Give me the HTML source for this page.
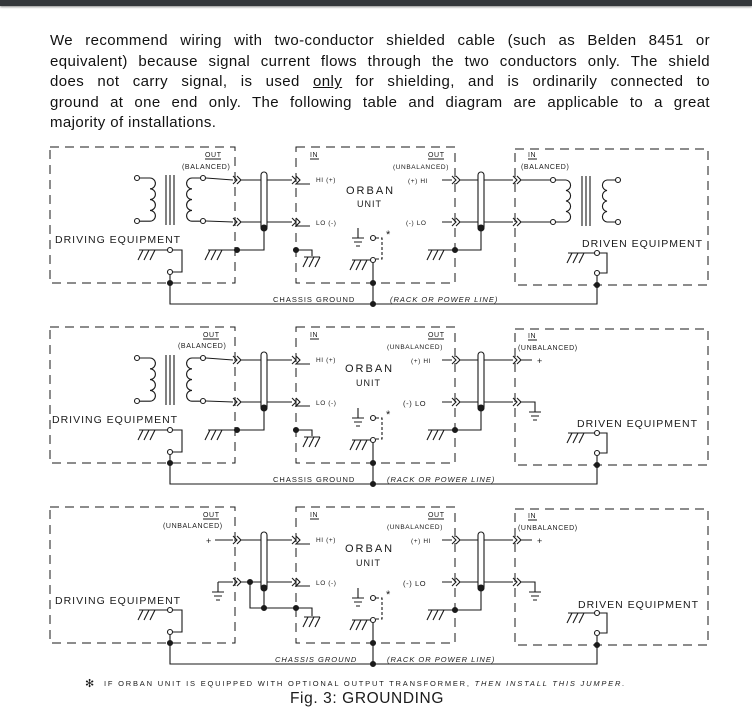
<!DOCTYPE html>
<html><head><meta charset="utf-8">
<style>
html,body{margin:0;padding:0;background:#fff;}
body{width:752px;height:726px;position:relative;overflow:hidden;font-family:"Liberation Sans",sans-serif;}
.bar{position:absolute;left:0;top:0;width:752px;height:6px;background:#34373b;box-shadow:0 1px 2px #888;}
.para{position:absolute;left:50px;top:31px;width:660px;font-size:15px;line-height:20.6px;color:#111;letter-spacing:0.4px;}
.para div{text-align:justify;text-align-last:justify;white-space:nowrap;}
.para div.l{text-align-last:left;}
svg{position:absolute;left:0;top:0;}
</style></head><body>
<div class="bar"></div>
<div class="para">
<div style="white-space:normal">We recommend wiring with two-conductor shielded cable (such as Belden 8451 or</div>
<div style="white-space:normal">equivalent) because signal current flows through the two conductors only. The shield</div>
<div style="white-space:normal">does not carry signal, is used <u>only</u> for shielding, and is ordinarily connected to</div>
<div style="white-space:normal">ground at one end only. The following table and diagram are applicable to a great</div>
<div class="l">majority of installations.</div>
</div>
<svg width="752" height="726" viewBox="0 0 752 726" xmlns="http://www.w3.org/2000/svg">
<defs>
<g id="common" fill="none" stroke="#1a1a1a" stroke-width="1.1">
  <g stroke-dasharray="9 6" stroke-width="1">
    <rect x="50" y="147" width="185" height="136"/>
    <rect x="296" y="147" width="159" height="136"/>
    <rect x="515" y="149" width="193" height="136"/>
  </g>
  <path d="M233,176 L237,180 L233,184 M237,176 L241,180 L237,184 M233,218 L237,222 L233,226 M237,218 L241,222 L237,226"/>
  <path d="M241,180 H292 M241,222 H292"/>
  <path d="M292,176 L296,180 L292,184 M296,176 L300,180 L296,184 H310 M292,218 L296,222 L292,226 M296,218 L300,222 L296,226 H310"/>
  <path d="M442,180 H452 M442,222 H452"/>
  <path d="M452,176 L456,180 L452,184 M456,176 L460,180 L456,184 M452,218 L456,222 L452,226 M456,218 L460,222 L456,226"/>
  <path d="M460,180 H513 M460,222 H513"/>
  <path d="M513,176 L517,180 L513,184 M517,176 L521,180 L517,184 M513,218 L517,222 L513,226 M517,218 L521,222 L517,226"/>
  <rect x="261" y="172" width="6" height="58" rx="3" fill="#fff"/>
  <rect x="478" y="172" width="6" height="58" rx="3" fill="#fff"/>
  <ellipse cx="264" cy="228" rx="3" ry="3" fill="#1a1a1a"/>
  <ellipse cx="481" cy="228" rx="3" ry="3" fill="#1a1a1a"/>
  <path d="M481,230 V250 H446 M428,250 H446 M432,250 l-5,10 M438,250 l-5,10 M444,250 l-5,10"/>
  <circle cx="455" cy="250" r="2.5" fill="#1a1a1a"/>
  <path d="M358,228 V238 M352,238 H364 M354,242 H362 M356,246 H360"/>
  <circle cx="373" cy="238" r="2.5" fill="#fff"/>
  <path d="M376,238 H382 V259 H376" stroke-dasharray="3 2"/>
  <circle cx="373" cy="260" r="2.5" fill="#fff"/>
  <path d="M370,260 H352 M355,260 l-5,10 M361,260 l-5,10 M367,260 l-5,10"/>
  <path d="M373,263 V304"/>
  <circle cx="373" cy="283" r="2.5" fill="#1a1a1a"/>
  <circle cx="373" cy="304" r="2.5" fill="#1a1a1a"/>
  <path d="M167,250 H139 M143,250 l-5,10 M149,250 l-5,10 M155,250 l-5,10"/>
  <circle cx="170" cy="250" r="2.5" fill="#fff"/>
  <path d="M173,250 H182 V272 H173"/>
  <circle cx="170" cy="272" r="2.5" fill="#fff"/>
  <path d="M170,275 V304 H597 V276"/>
  <circle cx="170" cy="283" r="2.5" fill="#1a1a1a"/>
  <path d="M594,253 H568 M572,253 l-5,10 M578,253 l-5,10 M584,253 l-5,10"/>
  <circle cx="597" cy="253" r="2.5" fill="#fff"/>
  <path d="M600,253 H607 V273 H600"/>
  <circle cx="597" cy="273" r="2.5" fill="#fff"/>
  <circle cx="597" cy="285" r="2.5" fill="#1a1a1a"/>
</g>
<g id="leftBal" fill="none" stroke="#1a1a1a" stroke-width="1.1">
  <circle cx="137" cy="178" r="2.5" fill="#fff"/>
  <circle cx="137" cy="221" r="2.5" fill="#fff"/>
  <path d="M140,178 H150 a5.4,5.4 0 0 1 0,10.8 a5.4,5.4 0 0 1 0,10.8 a5.4,5.4 0 0 1 0,10.8 a5.4,5.4 0 0 1 0,10.8 H140"/>
  <path d="M166,175 V225 M170,175 V225 M174,175 V225"/>
  <path d="M200,178 H192 a5.4,5.4 0 0 0 0,10.8 a5.4,5.4 0 0 0 0,10.8 a5.4,5.4 0 0 0 0,10.8 a5.4,5.4 0 0 0 0,10.8 H200"/>
  <circle cx="203" cy="178" r="2.5" fill="#fff"/>
  <circle cx="203" cy="221" r="2.5" fill="#fff"/>
  <path d="M206,178 L233,180 M206,221 L233,222"/>
  <path d="M264,230 V250 H208 M210,250 l-5,10 M216,250 l-5,10 M222,250 l-5,10"/>
  <circle cx="237" cy="250" r="2.5" fill="#1a1a1a"/>
  <path d="M296,250 H312 V256 M304,257 H320 M308,257 l-5,10 M314,257 l-5,10 M320,257 l-5,10"/>
  <circle cx="296" cy="250" r="2.5" fill="#1a1a1a"/>
</g>
<g id="leftUnbal" fill="none" stroke="#1a1a1a" stroke-width="1.1">
  <path d="M215,180 H233 M218,222 H233"/>
  <path d="M218,222 V232 M212,232 H224 M214,236 H222 M216,240 H220"/>
  <path d="M250,222 V248 H296 M264,230 V248"/>
  <circle cx="250" cy="222" r="2.5" fill="#1a1a1a"/>
  <circle cx="264" cy="248" r="2.5" fill="#1a1a1a"/>
  <circle cx="296" cy="248" r="2.5" fill="#1a1a1a"/>
  <path d="M296,248 H312 V256 M304,257 H320 M308,257 l-5,10 M314,257 l-5,10 M320,257 l-5,10"/>
</g>
<g id="rightBal" fill="none" stroke="#1a1a1a" stroke-width="1.1">
  <path d="M521,180 H550 M521,222 H550"/>
  <circle cx="553" cy="180" r="2.5" fill="#fff"/>
  <circle cx="553" cy="222" r="2.5" fill="#fff"/>
  <path d="M556,180 H566 a5.3,5.3 0 0 1 0,10.5 a5.3,5.3 0 0 1 0,10.5 a5.3,5.3 0 0 1 0,10.5 a5.3,5.3 0 0 1 0,10.5 H556"/>
  <path d="M582,176 V226 M586,176 V226 M590,176 V226"/>
  <path d="M615,180 H607 a5.3,5.3 0 0 0 0,10.5 a5.3,5.3 0 0 0 0,10.5 a5.3,5.3 0 0 0 0,10.5 a5.3,5.3 0 0 0 0,10.5 H615"/>
  <circle cx="618" cy="180" r="2.5" fill="#fff"/>
  <circle cx="618" cy="222" r="2.5" fill="#fff"/>
</g>
<g id="rightUnbal" fill="none" stroke="#1a1a1a" stroke-width="1.1">
  <path d="M521,180 H532 M521,222 H535 V232 M529,232 H541 M531,236 H539 M533,240 H537"/>
</g>
</defs>

<use href="#common"/>
<use href="#leftBal"/>
<use href="#rightBal"/>
<use href="#common" y="180"/>
<use href="#leftBal" y="180"/>
<use href="#rightUnbal" y="180"/>
<use href="#common" y="360"/>
<use href="#leftUnbal" y="360"/>
<use href="#rightUnbal" y="360"/>

<g font-family="Liberation Sans, sans-serif" fill="#1a1a1a" font-size="7" letter-spacing="0.6">
  <text x="205" y="157">OUT</text><path d="M205,159 H221" stroke="#1a1a1a"/>
  <text x="182" y="169">(BALANCED)</text>
  <text x="310" y="157">IN</text><path d="M310,159 H319" stroke="#1a1a1a"/>
  <text x="428" y="157">OUT</text><path d="M428,159 H444" stroke="#1a1a1a"/>
  <text x="393" y="169" font-size="6.5">(UNBALANCED)</text>
  <text x="528" y="157">IN</text><path d="M528,159 H537" stroke="#1a1a1a"/>
  <text x="521" y="169">(BALANCED)</text>
  <text x="316" y="182" font-size="6.5">HI (+)</text>
  <text x="316" y="225" font-size="6.5">LO (-)</text>
  <text x="408" y="183" font-size="6.5">(+) HI</text>
  <text x="406" y="225" font-size="6.5">(-) LO</text>
  <text x="346" y="194" font-size="11" letter-spacing="2">ORBAN</text>
  <text x="357" y="207" font-size="9" letter-spacing="1">UNIT</text>
  <text x="55" y="243" font-size="10.5" letter-spacing="1">DRIVING EQUIPMENT</text>
  <text x="582" y="247" font-size="10.5" letter-spacing="1">DRIVEN EQUIPMENT</text>
  <text x="386" y="238" font-size="11">*</text>
  <text x="273" y="302" font-size="7.5" letter-spacing="1">CHASSIS GROUND</text>
  <text x="390" y="302" font-size="7.5" letter-spacing="1" font-style="italic">(RACK OR POWER LINE)</text>

  <text x="203" y="337">OUT</text><path d="M203,339 H219" stroke="#1a1a1a"/>
  <text x="178" y="348">(BALANCED)</text>
  <text x="310" y="337">IN</text><path d="M310,339 H319" stroke="#1a1a1a"/>
  <text x="428" y="337">OUT</text><path d="M428,339 H444" stroke="#1a1a1a"/>
  <text x="387" y="349" font-size="6.5">(UNBALANCED)</text>
  <text x="528" y="338">IN</text><path d="M528,340 H537" stroke="#1a1a1a"/>
  <text x="518" y="350">(UNBALANCED)</text>
  <text x="316" y="362" font-size="6.5">HI (+)</text>
  <text x="316" y="405" font-size="6.5">LO (-)</text>
  <text x="411" y="363" font-size="6.5">(+) HI</text>
  <text x="403" y="406" font-size="7.5">(-) LO</text>
  <text x="537" y="364" font-size="9">+</text>
  <text x="345" y="372" font-size="11" letter-spacing="2">ORBAN</text>
  <text x="356" y="386" font-size="9" letter-spacing="1">UNIT</text>
  <text x="52" y="423" font-size="10.5" letter-spacing="1">DRIVING EQUIPMENT</text>
  <text x="577" y="427" font-size="10.5" letter-spacing="1">DRIVEN EQUIPMENT</text>
  <text x="386" y="418" font-size="11">*</text>
  <text x="273" y="482" font-size="7.5" letter-spacing="1">CHASSIS GROUND</text>
  <text x="387" y="482" font-size="7.5" letter-spacing="1" font-style="italic">(RACK OR POWER LINE)</text>

  <text x="203" y="517">OUT</text><path d="M203,519 H219" stroke="#1a1a1a"/>
  <text x="163" y="528">(UNBALANCED)</text>
  <text x="310" y="517">IN</text><path d="M310,519 H319" stroke="#1a1a1a"/>
  <text x="428" y="517">OUT</text><path d="M428,519 H444" stroke="#1a1a1a"/>
  <text x="387" y="529" font-size="6.5">(UNBALANCED)</text>
  <text x="528" y="518">IN</text><path d="M528,520 H537" stroke="#1a1a1a"/>
  <text x="518" y="530">(UNBALANCED)</text>
  <text x="206" y="544" font-size="9">+</text>
  <text x="316" y="542" font-size="6.5">HI (+)</text>
  <text x="316" y="585" font-size="6.5">LO (-)</text>
  <text x="411" y="543" font-size="6.5">(+) HI</text>
  <text x="403" y="586" font-size="7.5">(-) LO</text>
  <text x="537" y="544" font-size="9">+</text>
  <text x="345" y="552" font-size="11" letter-spacing="2">ORBAN</text>
  <text x="356" y="566" font-size="9" letter-spacing="1">UNIT</text>
  <text x="55" y="604" font-size="10.5" letter-spacing="1">DRIVING EQUIPMENT</text>
  <text x="578" y="608" font-size="10.5" letter-spacing="1">DRIVEN EQUIPMENT</text>
  <text x="386" y="598" font-size="11">*</text>
  <text x="275" y="662" font-size="7.5" letter-spacing="1" font-style="italic">CHASSIS GROUND</text>
  <text x="387" y="662" font-size="7.5" letter-spacing="1" font-style="italic">(RACK OR POWER LINE)</text>

  <text x="85" y="687" font-size="11">✻</text>
  <text x="104" y="686" font-size="7.5" letter-spacing="1.8">IF ORBAN UNIT  IS EQUIPPED WITH OPTIONAL OUTPUT TRANSFORMER, <tspan font-style="italic">THEN INSTALL THIS JUMPER.</tspan></text>
  <text x="367" y="703" font-size="15.5" letter-spacing="0.6" text-anchor="middle">Fig. 3: GROUNDING</text>
</g>
</svg>
</body></html>
